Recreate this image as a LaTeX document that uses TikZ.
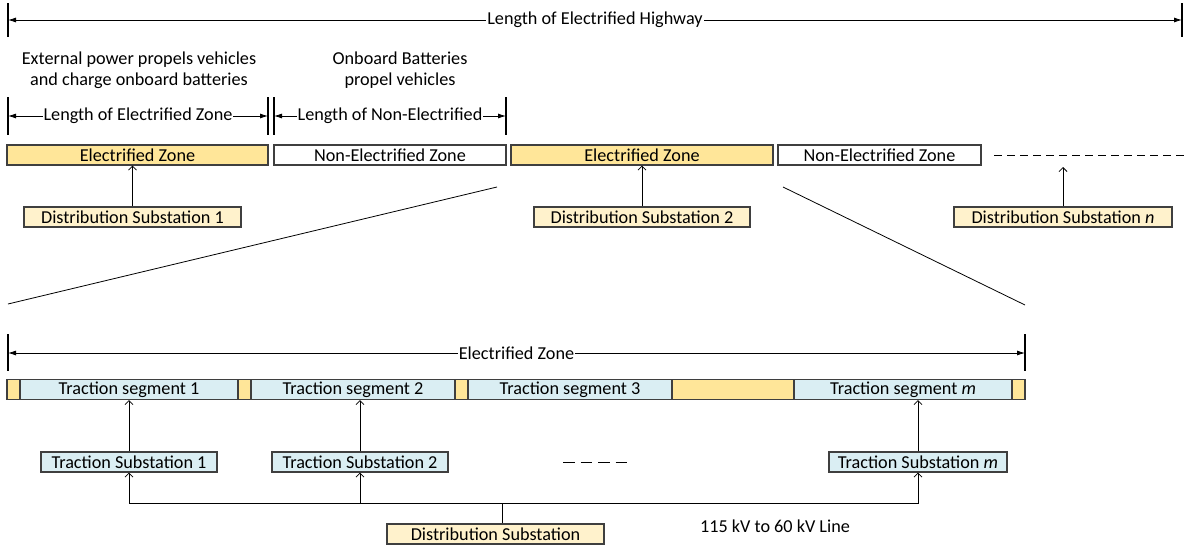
\documentclass[tikz,border=0pt]{standalone}
\usepackage{fontspec}
\setmainfont{Carlito}
\usetikzlibrary{arrows.meta}
\definecolor{elecfill}{HTML}{FFE699}
\definecolor{dsubfill}{HTML}{FFF2CC}
\definecolor{tsegfill}{HTML}{DAEEF3}
\definecolor{bordergray}{HTML}{3F3F3F}
\tikzset{
  box/.style={draw=bordergray, line width=1.2pt, minimum height=20pt, inner sep=0pt, anchor=center},
  elec/.style={box, fill=elecfill},
  nonelec/.style={box, fill=white},
  dsub/.style={box, fill=dsubfill},
  tseg/.style={box, fill=tsegfill},
  tsub/.style={box, fill=tsegfill},
  dimline/.style={line width=0.8pt, {Latex[length=8pt,width=5pt]}-{Latex[length=8pt,width=5pt]}},
  dimtext/.style={fill=white, inner xsep=1pt, inner ysep=0pt},
  ticks/.style={line width=1.5pt},
  feed/.style={line width=0.8pt, -{Straight Barb[length=4pt,width=8pt]}},
  plain/.style={line width=0.8pt},
  lbl/.style={align=center, inner sep=0pt}
}
\begin{document}
\begin{tikzpicture}[x=1pt,y=-1pt,font=\fontsize{18.2}{21.5}\selectfont]
\useasboundingbox (0,0) rectangle (1189,546);

% ---- top dimension: whole highway
\coordinate (hL) at (8,20);
\coordinate (hR) at (1182,20);
\draw[ticks] ([yshift=17pt]hL) -- ([yshift=-17pt]hL);
\draw[ticks] ([yshift=17pt]hR) -- ([yshift=-17pt]hR);
\draw[dimline] (hL) -- node[dimtext] (tHwy) {Length of Electrified Highway} (hR);

% ---- descriptions
\node[lbl] (descE) at (139,70) {External power propels vehicles\\and charge onboard batteries};
\node[lbl] (descN) at (400,70) {Onboard Batteries\\propel vehicles};

% ---- zone dimensions
\coordinate (eL) at (8,116);
\coordinate (eR) at (268,116);
\coordinate (nL) at (274,116);
\coordinate (nR) at (506,116);
\foreach \c in {eL,eR,nL,nR}
  \draw[ticks] ([yshift=19pt]\c) -- ([yshift=-19pt]\c);
\draw[dimline] (eL) -- node[dimtext] (tLE) {Length of Electrified Zone} (eR);
\draw[dimline] (nL) -- node[dimtext] (tLN) {Length of Non-Electrified} (nR);

% ---- zone row
\node[elec, minimum width=261pt] (E1) at (137.5,155) {Electrified Zone};
\node[nonelec, minimum width=232pt] (N1) at (390,155) {Non-Electrified Zone};
\node[elec, minimum width=262pt] (E2) at (642,155) {Electrified Zone};
\node[nonelec, minimum width=203pt] (N2) at (879.5,155) {Non-Electrified Zone};
\coordinate (dashA) at (994,155);
\coordinate (dashB) at (1185,155);
\draw[plain, dash pattern=on 8pt off 5pt] (dashA) -- (dashB);

% ---- distribution substations
\node[dsub, minimum width=217pt] (DS1) at (132.5,217) {Distribution Substation 1};
\node[dsub, minimum width=216pt] (DS2) at (642,217) {Distribution Substation 2};
\node[dsub, minimum width=218pt] (DSn) at (1063,217) {Distribution Substation \textit{n}};
\coordinate (DSnTip) at (1063,167);
\draw[feed] (DS1.north) -- (DS1.north |- E1.south);
\draw[feed] (DS2.north) -- (DS2.north |- E2.south);
\draw[feed] (DSn.north) -- (DSnTip);

% ---- zoom lines
\coordinate (zA) at (497,187);
\coordinate (zB) at (8,304);
\coordinate (zC) at (783,187);
\coordinate (zD) at (1025,305);
\draw[plain] (zA) -- (zB);
\draw[plain] (zC) -- (zD);

% ---- electrified zone dimension
\coordinate (zL) at (8,353);
\coordinate (zR) at (1025,353);
\draw[ticks] ([yshift=19pt]zL) -- ([yshift=-18pt]zL);
\draw[ticks] ([yshift=19pt]zR) -- ([yshift=-18pt]zR);
\draw[dimline] (zL) -- node[dimtext] (tEZ) {Electrified Zone} (zR);

% ---- traction row
\node[elec, minimum width=1018pt] (Ebar) at (516,389.5) {};
\node[tseg, minimum width=218pt] (T1) at (129,389.5) {Traction segment 1};
\node[tseg, minimum width=204pt] (T2) at (353,389.5) {Traction segment 2};
\node[tseg, minimum width=204pt] (T3) at (570,389.5) {Traction segment 3};
\node[tseg, minimum width=218pt] (Tm) at (903,389.5) {Traction segment \textit{m}};

% ---- traction substations
\node[tsub, minimum width=176pt] (TS1) at (129,462) {Traction Substation 1};
\node[tsub, minimum width=176pt] (TS2) at (360,462) {Traction Substation 2};
\node[tsub, minimum width=178pt] (TSm) at (918,462) {Traction Substation \textit{m}};
\coordinate (dotsA) at (563,462);
\coordinate (dotsB) at (628,462);
\draw[plain, dash pattern=on 11.5pt off 6pt] (dotsA) -- (dotsB);
\draw[feed] (TS1.north) -- (TS1.north |- T1.south);
\draw[feed] (TS2.north) -- (TS2.north |- T2.south);
\draw[feed] (TSm.north) -- (TSm.north |- Tm.south);

% ---- distribution substation and line
\node[dsub, minimum width=217pt] (DS) at (495.5,534) {Distribution Substation};
\coordinate (j) at (502,503);
\draw[plain] (DS.north -| j) -- (j);
\draw[feed] (j) -| (TS1.south);
\draw[feed] (j) -| (TSm.south);
\draw[feed] (TS2.south |- j) -- (TS2.south);
\node[lbl] (lineLbl) at (775,526) {115 kV to 60 kV Line};
\end{tikzpicture}
\end{document}
